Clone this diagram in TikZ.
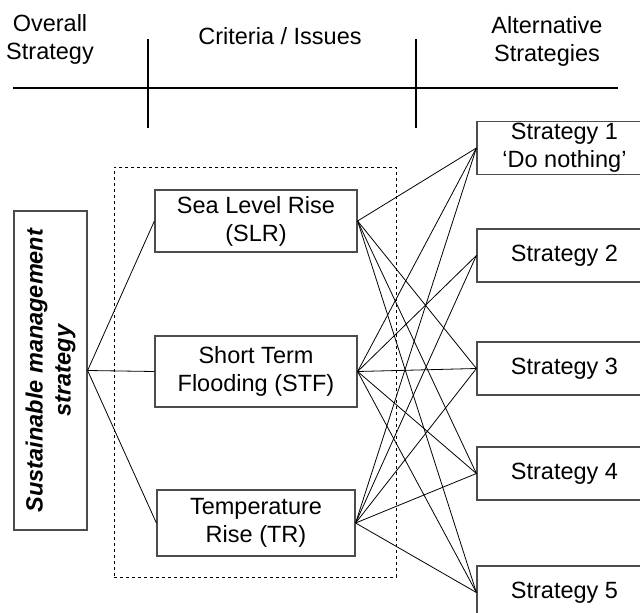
\documentclass[tikz,border=0pt]{standalone}
\usepackage{fontspec}
\setmainfont{Liberation Sans}
\begin{document}
\begin{tikzpicture}[x=1pt,y=-1pt,
  box/.style={draw=black!70,line width=1.2pt,inner sep=0pt,align=center,
    font=\fontsize{23.5}{28}\selectfont},
  head/.style={align=center,font=\fontsize{23.5}{28}\selectfont},
  rule/.style={line width=2.6pt},
  link/.style={black,line width=0.8pt}]
  \useasboundingbox (0,0) rectangle (640,613);
  \clip (0,0) rectangle (640,613);
  % Header: columns and titles
  \draw[rule] (13,88)--(618,88);
  \draw[rule] (148,39)--(148,128);
  \draw[rule] (416,39)--(416,128);
  \node[head] (overall) at (50,39) {Overall\\Strategy};
  \node[head] (criteria) at (280,36) {Criteria / Issues};
  \node[head] (alternatives) at (547,41) {Alternative\\Strategies};
  % Overall strategy
  \node[box,rotate=90,minimum width=319,minimum height=73,
    font=\fontsize{23.5}{28}\selectfont\bfseries\itshape] (sms) at (50.5,370.5)
    {Sustainable management\\strategy};
  % Criteria / issues
  \node[draw,dashed,line width=0.8pt,minimum width=282,minimum height=410] (issues) at (255,372) {};
  \node[box,minimum width=202,minimum height=62] (slr) at (256,221) {Sea Level Rise\\(SLR)};
  \node[box,minimum width=202,minimum height=71] (stf) at (256,371.5) {Short Term\\Flooding (STF)};
  \node[box,minimum width=198,minimum height=66] (tr) at (256,523) {Temperature\\Rise (TR)};
  % Alternative strategies
  \foreach \n/\y/\t in {1/148/{Strategy 1\\‘Do nothing’},2/255.5/{Strategy 2},
      3/368.5/{Strategy 3},4/473.5/{Strategy 4},5/592.5/{Strategy 5}}
    \node[box,minimum width=175,minimum height=53] (s\n) at (564.5,\y) {\t};
  % Links
  \draw[link] (sms.south) -- (slr.west);
  \draw[link] (sms.south) -- (stf.west);
  \draw[link] (sms.south) -- (tr.west);
  \foreach \s in {1,3,4,5}
    \draw[link] (slr.east) -- (s\s.west);
  \foreach \s in {1,...,5}
    \draw[link] (stf.east) -- (s\s.west);
  \foreach \s in {1,...,5}
    \draw[link] (tr.east) -- (s\s.west);
\end{tikzpicture}
\end{document}
